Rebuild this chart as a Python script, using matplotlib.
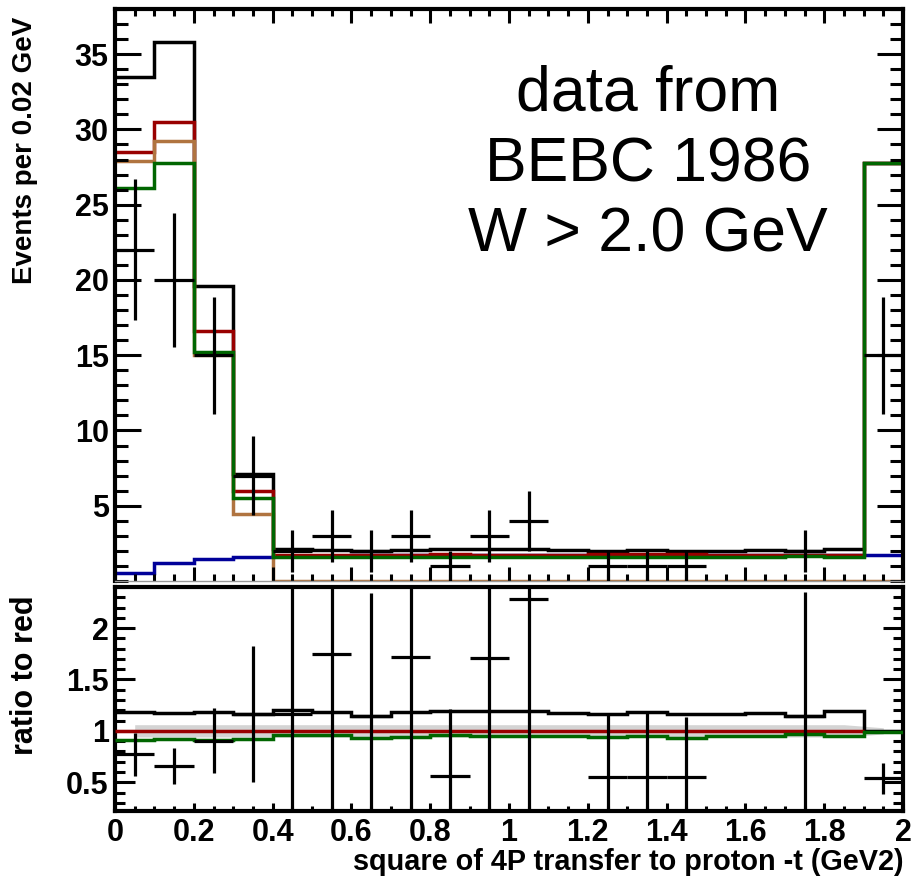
import numpy as np
import matplotlib
matplotlib.use("Agg")
import matplotlib.pyplot as plt
from matplotlib.ticker import FixedLocator, MultipleLocator, FixedFormatter

plt.rcParams['font.family'] = ['Liberation Sans', 'DejaVu Sans']

# ------------------------------------------------------------
# Data (20 bins of 0.1 in -t)
# ------------------------------------------------------------
bin_edges = np.round(np.arange(21) * 0.1, 2)

data_counts = np.array([22, 20, 15, 7, 2, 3, 2, 3, 1, 3,
                        4, 0, 1, 1, 1, 0, 0, 2, 0, 15])

black_hist = np.array([33.5, 35.8, 19.6, 7.1, 2.1, 2.05, 2.0, 2.05, 2.1, 2.1,
                       2.1, 2.05, 2.0, 2.05, 2.0, 2.0, 2.05, 2.0, 2.1, 27.8])
red_hist = np.array([28.5, 30.5, 16.6, 6.0, 1.72, 1.72, 1.75, 1.75, 1.78, 1.76,
                     1.75, 1.75, 1.8, 1.8, 1.8, 1.75, 1.75, 1.75, 1.75, 27.8])
orange_hist = np.array([27.9, 29.2, 15.0, 4.45, 0, 0, 0, 0, 0, 0,
                        0, 0, 0, 0, 0, 0, 0, 0, 0, 0])
green_hist = np.array([26.1, 27.8, 15.2, 5.5, 1.62, 1.62, 1.62, 1.62, 1.62, 1.62,
                       1.62, 1.62, 1.62, 1.62, 1.62, 1.62, 1.62, 1.64, 1.62, 27.8])
blue_hist = np.array([0.55, 1.2, 1.46, 1.6, 1.68, 1.68, 1.7, 1.7, 1.72, 1.72,
                      1.72, 1.73, 1.73, 1.73, 1.74, 1.74, 1.74, 1.75, 1.75, 1.75])

# ratio panel, as read from the lower pad
black_ratio = np.array([1.18, 1.17, 1.18, 1.16, 1.2, 1.18, 1.14, 1.18, 1.19, 1.19,
                        1.19, 1.17, 1.16, 1.18, 1.16, 1.16, 1.17, 1.14, 1.19, 1.0])
green_ratio = np.array([0.91, 0.92, 0.91, 0.92, 0.96, 0.96, 0.93, 0.94, 0.96, 0.95,
                        0.95, 0.95, 0.94, 0.95, 0.93, 0.95, 0.95, 0.97, 0.95, 0.99])
ratio_data_err = np.array([0.21, 0.175, 0.315, 0.66, 1.3, 1.6, 1.2, 1.6, 0.65, 1.6,
                           2.1, 0, 0.62, 0.62, 0.58, 0, 0, 1.21, 0, 0.15])
band_halfwidth = np.array([0.06] * 19 + [0.03])

y_ticks_top = [5, 10, 15, 20, 25, 30, 35]
y_ticks_ratio = [0.5, 1, 1.5, 2]
y_ticklabels_ratio = ["0.5", "1", "1.5", "2"]
x_ticks = [0, 0.2, 0.4, 0.6, 0.8, 1.0, 1.2, 1.4, 1.6, 1.8, 2.0]
x_ticklabels = ["0", "0.2", "0.4", "0.6", "0.8", "1", "1.2", "1.4", "1.6", "1.8", "2"]

C_BLACK = "black"
C_RED = "#990000"
C_ORANGE = "#b07440"
C_GREEN = "#006600"
C_BLUE = "#000099"

LW = 2.5

# ------------------------------------------------------------
# Figure / pads
# ------------------------------------------------------------
W, H = 913, 886
fig = plt.figure(figsize=(W / 100, H / 100), dpi=100)
ax1 = fig.add_axes([115 / W, 1 - 581 / H, (903 - 115) / W, (581 - 9) / H])
ax2 = fig.add_axes([115 / W, 1 - 811 / H, (903 - 115) / W, (811 - 587) / H])

centers = 0.5 * (bin_edges[:-1] + bin_edges[1:])
has_data = data_counts > 0
data_err = np.sqrt(data_counts)

# ---- top pad
ax1.stairs(blue_hist, bin_edges, baseline=None, color=C_BLUE, lw=LW)
ax1.stairs(black_hist, bin_edges, baseline=None, color=C_BLACK, lw=LW)
ax1.stairs(red_hist, bin_edges, baseline=None, color=C_RED, lw=LW)
ax1.stairs(orange_hist, bin_edges, baseline=None, color=C_ORANGE, lw=LW)
ax1.stairs(green_hist, bin_edges, baseline=None, color=C_GREEN, lw=LW)
ax1.errorbar(centers[has_data], data_counts[has_data],
             xerr=0.05, yerr=data_err[has_data],
             fmt="none", ecolor="black", elinewidth=2.3, capsize=0, zorder=5)

ax1.text(0.676, 0.728, "data from\nBEBC 1986\nW > 2.0 GeV",
         transform=ax1.transAxes, ha="center", va="center",
         multialignment="center", fontsize=45, linespacing=1.25)

ax1.set_xlim(0, 2)
ax1.set_ylim(0, 38)

# ---- ratio pad
ratio_data = data_counts / red_hist

ax2.fill_between(centers, 1 - band_halfwidth, 1 + band_halfwidth,
                 color="#d4d4d4", lw=0, zorder=1)
ax2.stairs(black_ratio, bin_edges, baseline=None, color=C_BLACK, lw=LW, zorder=2)
ax2.stairs(red_hist[:19] / red_hist[:19], bin_edges[:20], baseline=None,
           color=C_RED, lw=LW, zorder=3)
ax2.stairs(green_ratio, bin_edges, baseline=None, color=C_GREEN, lw=LW, zorder=3)
ax2.errorbar(centers[has_data], ratio_data[has_data],
             xerr=0.05, yerr=ratio_data_err[has_data],
             fmt="none", ecolor="black", elinewidth=2.3, capsize=0, zorder=5)

ax2.set_xlim(0, 2)
ax2.set_ylim(0.22, 2.4)

# ------------------------------------------------------------
# Axes styling (ROOT-like: inward ticks, heavy frame)
# ------------------------------------------------------------
for ax in (ax1, ax2):
    for s in ax.spines.values():
        s.set_linewidth(3.0)
ax1.spines["bottom"].set_linewidth(1.0)
ax1.spines["bottom"].set_color("#999999")

ax1.xaxis.set_major_locator(FixedLocator(x_ticks))
ax1.xaxis.set_minor_locator(MultipleLocator(0.05))
ax1.yaxis.set_major_locator(FixedLocator(y_ticks_top))
ax1.yaxis.set_minor_locator(MultipleLocator(1))
ax1.tick_params(axis="x", which="major", direction="in", length=10, width=2.2,
                top=True, bottom=True, labelbottom=False)
ax1.tick_params(axis="x", which="minor", direction="in", length=5, width=2.2,
                top=True, bottom=True)
ax1.tick_params(axis="y", which="major", direction="in", length=18.5, width=2.2,
                left=True, right=True, labelsize=22, pad=4.5)
ax1.tick_params(axis="y", which="minor", direction="in", length=9.3, width=2.2,
                left=True, right=True)

ax2.xaxis.set_major_locator(FixedLocator(x_ticks))
ax2.xaxis.set_major_formatter(FixedFormatter(x_ticklabels))
ax2.xaxis.set_minor_locator(MultipleLocator(0.05))
ax2.yaxis.set_major_locator(FixedLocator(y_ticks_ratio))
ax2.yaxis.set_major_formatter(FixedFormatter(y_ticklabels_ratio))
ax2.yaxis.set_minor_locator(MultipleLocator(0.1))
ax2.tick_params(axis="x", which="major", direction="in", length=6, width=2.2,
                top=False, bottom=True, labelsize=22, pad=5)
ax2.tick_params(axis="x", which="minor", direction="in", length=3.5, width=2.2,
                top=False, bottom=True)
ax2.tick_params(axis="y", which="major", direction="in", length=14.4, width=2.2,
                left=True, right=True, labelsize=22, pad=4.5)
ax2.tick_params(axis="y", which="minor", direction="in", length=7.2, width=2.2,
                left=True, right=True)

for lab in ax1.get_yticklabels() + ax2.get_yticklabels() + ax2.get_xticklabels():
    lab.set_fontweight("bold")

fig.text(25 / W, 1 - 150 / H, "Events per 0.02 GeV", rotation=90,
         ha="center", va="center", fontsize=20, fontweight="bold")
fig.text(25 / W, 1 - 675 / H, "ratio to red", rotation=90,
         ha="center", va="center", fontsize=22, fontweight="bold")
fig.text(904 / W, 1 - 862 / H, "square of 4P transfer to proton -t (GeV2)",
         ha="right", va="center", fontsize=20.8, fontweight="bold")

fig.savefig("out.png", dpi=100)
